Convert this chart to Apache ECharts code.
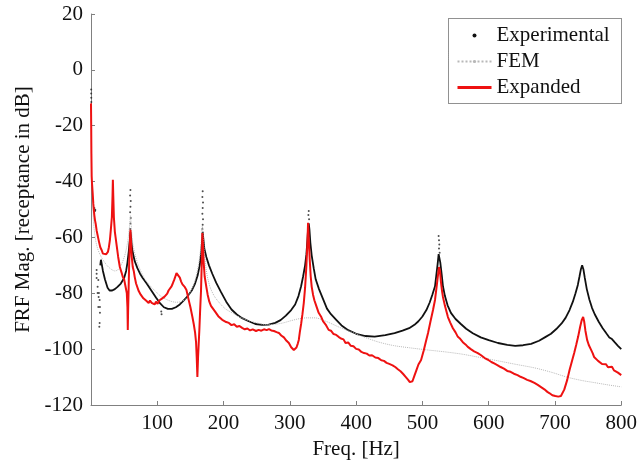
<!DOCTYPE html>
<html>
<head>
<meta charset="utf-8">
<title>FRF magnitude</title>
<script src="https://cdn.jsdelivr.net/npm/echarts@6/dist/echarts.min.js"></script>
<style>
  html, body { margin: 0; padding: 0; background: #fff; }
  #chart { width: 640px; height: 468px; }
</style>
</head>
<body>
<div id="chart"></div>
<script>
// [freq Hz, dB] pairs
const experimentalCurve = [
  [14, -70], [15, -68], [18, -72], [21, -75], [25, -78], [28, -79], [32, -79], [36, -78.5],
  [40, -77.7], [45, -76.5], [50, -74.5], [53, -72], [55, -69], [57, -65], [58.5, -61], [59.5, -58],
  [60.5, -60], [62, -64], [64, -66.5], [66, -68.5], [70, -71], [74, -73], [78, -74.5], [84, -76.5],
  [91, -79], [98, -81.5], [104, -83.5], [110, -85], [116, -85.6], [122, -85.6], [128, -85],
  [134, -84], [140, -82.5], [146, -81], [152, -79], [157, -76.5], [161, -73.5], [164, -70],
  [166, -66], [167.5, -61.5], [168.5, -58], [169.5, -60.5], [171, -64], [174, -67], [178, -70],
  [183, -73], [189, -76.3], [196, -79.5], [204, -83], [212, -85.8], [220, -87.6], [228, -88.9],
  [238, -90], [248, -91], [258, -91.3], [268, -91.2], [278, -90.6], [286, -89.6], [294, -88],
  [302, -86], [308, -84], [313, -81], [317, -77.5], [320, -74], [323, -70], [325, -66],
  [326.5, -61], [327.5, -57], [328.5, -55], [329.5, -57], [331, -62], [333, -66.5], [336, -71],
  [339, -75], [344, -78.5], [350, -82], [356, -85.5], [362, -87.5], [370, -89.5], [378, -91.5],
  [388, -93.2], [400, -94.5], [414, -95.3], [428, -95.5], [444, -95], [458, -94.3], [470, -93.4],
  [480, -92.5], [488, -91.3], [494, -90], [500, -88.3], [506, -86], [511, -83.3], [515, -80.5],
  [519, -77.5], [521, -73.5], [523, -69.5], [524.5, -66], [525.5, -66.5], [527, -69], [529, -73],
  [531, -77.5], [534, -81], [538, -84.3], [543, -87], [550, -89.2], [558, -91], [566, -92.7],
  [576, -94.3], [588, -95.8], [600, -96.8], [614, -97.8], [628, -98.5], [640, -98.8], [652, -98.6],
  [664, -98.1], [676, -97], [686, -95.6], [694, -94.5], [702, -92.8], [710, -90.8], [716, -88.8],
  [722, -86], [727, -83], [731, -80], [734.5, -77], [737, -74], [739, -71.5], [741, -70],
  [743, -71.5], [745, -74.5], [748, -78.5], [752, -82.3], [756, -85.3], [760, -87.5], [766, -90.2],
  [772, -92.5], [778, -94.5], [782, -95.8], [786, -96.4], [790, -97.5], [795, -98.8], [800, -100]
];

// isolated experimental samples: start, low-frequency scatter, peak tips
const experimentalDots = [
  [0.3, -7], [0.3, -8.5], [0.4, -10], [0.5, -11.5],
  [5, -49.5], [5.5, -50], [6, -50.5], [6.5, -50.2],
  [8.5, -71.7], [8.5, -73], [8.5, -74.5], [11, -75.2], [10, -77.7], [10, -79.9], [12, -79.9],
  [11.5, -81.3], [13, -82.4], [11, -84.9], [13.5, -84.9], [13.5, -87], [13, -90.6], [12.5, -92],
  [59.5, -43], [59, -45], [60, -47], [59.5, -49], [59, -51], [60, -53], [59.5, -55], [59, -57],
  [106, -86.5], [106.5, -87.5],
  [168.5, -43.5], [168, -45.5], [169, -47.5], [168.5, -49.5], [168, -51.5], [169, -53.5],
  [168.5, -55.5], [168, -57],
  [328.5, -50.5], [328, -52], [329, -53.5],
  [524.5, -59.5], [525, -61], [525.5, -62.5], [525, -64], [526, -65.5]
];

const femCurve = [
  [2, -45], [4, -55], [7, -61], [10, -64], [14, -66.3], [18, -68], [24, -70], [30, -71.3],
  [36, -72], [40, -71.7], [44, -70.5], [48, -68.5], [52, -65.5], [55, -62], [57, -58.5],
  [58.5, -55], [59.5, -52], [60.5, -55], [62, -60], [64, -63.5], [67, -66.5], [70, -69],
  [75, -72], [81, -74.8], [88, -77], [96, -79], [104, -80.8], [112, -82], [120, -82.8],
  [128, -83.2], [136, -83], [143, -82], [149, -80], [155, -77], [159, -73.5], [162, -70],
  [164.5, -66], [166.5, -61], [168, -56], [169.5, -60], [171, -65], [173.5, -71], [176, -74.5],
  [180, -78], [186, -81], [194, -83.5], [203, -85.6], [213, -87], [225, -88.6], [238, -89.8],
  [250, -90.6], [264, -91.2], [278, -91.1], [290, -90.6], [302, -89.8], [314, -89.1],
  [326, -88.8], [338, -88.8], [350, -89.6], [362, -90.8], [376, -92.3], [392, -93.8],
  [410, -95.5], [433, -97.4], [456, -98.7], [480, -99.5], [508, -100.3], [535, -101],
  [560, -101.8], [583, -102.8], [610, -104], [640, -105.4], [669, -106.7], [695, -108.3],
  [718, -110], [740, -111.2], [760, -112], [780, -112.8], [800, -113.5]
];

const expandedCurve = [
  [0, -12], [0.3, -20], [0.6, -30], [1, -38], [1.5, -40.5], [2.5, -44], [3.5, -48], [5, -52],
  [6, -53.8], [7, -55], [8.5, -57.5], [10.5, -59.8], [12, -61.5], [14, -63.5], [16, -64.5],
  [18, -65.8], [21, -65.6], [23, -66], [25.5, -65.2], [27, -63.5], [28.5, -61], [30, -57],
  [31.5, -52.7], [32.5, -45], [33, -39.4], [33.6, -45], [34.5, -52.7], [36, -58], [39, -63.4],
  [41, -67], [43.5, -70.6], [46, -72.5], [48, -74.2], [50, -75], [52, -77.5], [54, -79.9],
  [55, -85], [55.5, -93.1], [56, -86], [56.8, -78], [57.5, -70], [58.5, -63], [59.5, -57.3],
  [60.5, -62], [61.5, -67], [63, -70.6], [64.5, -72], [66, -74.2], [68, -76.5], [70, -77],
  [72, -79.2], [73.5, -78.8], [75, -80.5], [77, -79.8], [79, -81.8], [81, -81.3], [83, -82.6],
  [85, -81.9], [87, -83.5], [89, -82.6], [91.5, -83.4], [94, -82.8], [96, -84], [98, -83],
  [100.5, -83.8], [103, -82.6], [105, -83.2], [107, -81.9], [109, -82.3], [111, -81.2],
  [113, -80.6], [115, -80.1], [117, -79], [119, -78.6], [121.5, -77.5], [123.5, -76.4],
  [125.5, -75.2], [127.5, -73.8], [129, -72.8], [130.5, -72.4], [132, -73], [134, -74.4],
  [136, -75.8], [138, -76.8], [141, -77.6], [144, -78.8], [147, -82], [150, -85], [153, -88.5],
  [155, -91], [157, -94], [158.5, -97.5], [159.5, -103], [160.5, -110], [161.5, -103],
  [162.5, -98], [163.5, -93], [164.5, -87], [166, -79], [167, -70], [168, -58.4], [169, -63],
  [170, -69], [171.5, -74], [174, -77.7], [176, -80.5], [178.5, -83], [181, -84.5], [184, -85.5],
  [187, -86.5], [189, -87], [192, -88.2], [195, -88.6], [198, -89.5], [201, -89.4], [204, -90.3],
  [208, -90.6], [212, -91.4], [216, -91.1], [220, -92], [224, -91.7], [228, -92.4], [232, -92.9],
  [236, -92.6], [240, -93.3], [244, -92.9], [249, -93.5], [253, -93.1], [257, -93.4],
  [261, -92.9], [265, -93.2], [268.5, -92.8], [272, -93.3], [276, -93.5], [280, -93.9],
  [283.5, -94.2], [287, -95.1], [291, -95.8], [295, -97], [298.5, -97.8], [302, -99.3],
  [304, -100], [306, -100.3], [308, -100.1], [310, -99.4], [312, -98], [313.5, -96.7],
  [315, -94], [317, -91], [319, -87.5], [321, -83.5], [323, -78], [325, -70], [326.5, -62],
  [327.5, -54.8], [328.5, -60], [330, -68], [331.5, -74], [333, -77.7], [335, -80.5],
  [337, -82.5], [340, -84.6], [343.5, -87], [347, -88.3], [350, -90], [354, -91.2],
  [358.5, -93.1], [362, -93.4], [366, -94.6], [370, -94.9], [373.5, -95.6], [377, -96.2],
  [381, -96.5], [384, -97.8], [388, -97.6], [392, -98.8], [396, -99], [400, -99.9],
  [404, -100.1], [408, -101], [412, -101.4], [416, -101.6], [420, -102.3], [424, -102.2],
  [429, -103], [433.5, -103.2], [438, -104], [442, -104.2], [446, -104.9], [450, -105.3],
  [455, -105.8], [459, -106.4], [463, -107.2], [467, -107.9], [471, -108.9], [475, -110],
  [478.5, -111], [481, -111.8], [483, -112.1], [485, -111.5], [488, -109.5], [491, -107.5],
  [494, -105.5], [498, -103.9], [502, -100.5], [505, -97.5], [508.5, -94.2], [512, -90.3],
  [516, -86], [519, -82.4], [521, -78.5], [523, -74.5], [525, -70.6], [526.5, -72], [528, -76],
  [529.5, -79], [531, -81.3], [534, -84.5], [538.5, -88.5], [542, -90.5], [546, -92.5],
  [550, -94], [553.5, -95.6], [557, -96.3], [561, -97.5], [565, -98.3], [568.5, -99.2],
  [573, -100], [578, -100.8], [583.5, -101.4], [588, -102.1], [594, -103.2], [599, -103.8],
  [604, -104.6], [609, -105.2], [613, -105.7], [618, -106.4], [623, -107], [628, -107.8],
  [633, -108.1], [638, -108.8], [643.5, -109.3], [648, -109.9], [653, -110.4], [658, -111],
  [663, -111.4], [669, -112.1], [674, -112.8], [679, -113.6], [684, -114.4], [688.5, -115.3],
  [692, -115.8], [696, -116.5], [700.5, -116.8], [705, -117], [709, -116.8], [711, -116.4],
  [714, -114.5], [718.5, -111], [722, -107.5], [726, -104], [729, -101.4], [732, -98.5],
  [735, -95.5], [738, -92], [740.5, -89.5], [742.5, -88.5], [744, -90], [746, -93.5],
  [748.5, -96.7], [751, -98.5], [754, -100], [757, -101.5], [759, -102.8], [762, -103.2],
  [765, -104.2], [768, -104.5], [771, -105.3], [774, -105.7], [777, -105.4], [780, -106.5],
  [783, -106.7], [786, -106.3], [789, -107.6], [792, -108], [795, -108.4], [798, -108.9],
  [800, -109.3]
];

const seriesNames = ['Experimental', 'FEM', 'Expanded'];

const font = 'Liberation Serif';
const axisGray = '#808080';

const chart = echarts.init(document.getElementById('chart'));

chart.setOption({
  animation: false,
  grid: { left: 91, right: 17, top: 14, bottom: 63 },
  legend: {
    orient: 'vertical',
    left: 451,
    top: 20,
    itemWidth: 34,
    itemHeight: 4,
    itemGap: 5,
    selectedMode: false,
    textStyle: { fontFamily: font, fontSize: 21, color: '#111' },
    data: [
      { name: seriesNames[0], icon: 'circle', itemStyle: { color: '#111' } },
      { name: seriesNames[1], lineStyle: { width: 2, type: 'dotted', color: '#b8b8b8' } },
      { name: seriesNames[2], lineStyle: { width: 3, color: '#ee1111' } }
    ]
  },
  graphic: [{
    type: 'rect',
    shape: { x: 448.5, y: 18.5, width: 173, height: 85 },
    style: { fill: 'none', stroke: '#222', lineWidth: 1, lineDash: [1, 1] },
    silent: true
  }],
  xAxis: {
    type: 'value',
    min: 0,
    max: 800,
    interval: 100,
    name: 'Freq. [Hz]',
    nameLocation: 'middle',
    nameGap: 32,
    nameTextStyle: { fontFamily: font, fontSize: 21, color: '#111' },
    axisLine: { onZero: false, lineStyle: { color: axisGray, width: 1 } },
    axisTick: { inside: true, length: 4, lineStyle: { color: axisGray } },
    axisLabel: { showMinLabel: false, margin: 8, fontFamily: font, fontSize: 21, color: '#111' },
    splitLine: { show: false }
  },
  yAxis: {
    type: 'value',
    min: -120,
    max: 20,
    interval: 20,
    name: 'FRF Mag. [receptance in dB]',
    nameLocation: 'middle',
    nameGap: 56,
    nameTextStyle: { fontFamily: font, fontSize: 21, color: '#111' },
    axisLine: { show: true, onZero: false, lineStyle: { color: axisGray, width: 1 } },
    axisTick: { show: true, inside: true, length: 4, lineStyle: { color: axisGray } },
    axisLabel: { margin: 8, fontFamily: font, fontSize: 21, color: '#111' },
    splitLine: { show: false }
  },
  series: [
    {
      name: seriesNames[0],
      type: 'line',
      data: experimentalCurve,
      symbol: 'none',
      lineStyle: { color: '#111', width: 1.8 },
      itemStyle: { color: '#111' }
    },
    {
      name: seriesNames[0],
      type: 'scatter',
      data: experimentalDots,
      symbolSize: 2,
      itemStyle: { color: '#222' }
    },
    {
      name: seriesNames[1],
      type: 'line',
      data: femCurve,
      symbol: 'none',
      smooth: 0.3,
      lineStyle: { color: '#b8b8b8', width: 1, type: 'dotted' },
      itemStyle: { color: '#b8b8b8' }
    },
    {
      name: seriesNames[2],
      type: 'line',
      data: expandedCurve,
      symbol: 'none',
      lineStyle: { color: '#ee1111', width: 2 },
      itemStyle: { color: '#ee1111' }
    }
  ]
});
</script>
</body>
</html>
